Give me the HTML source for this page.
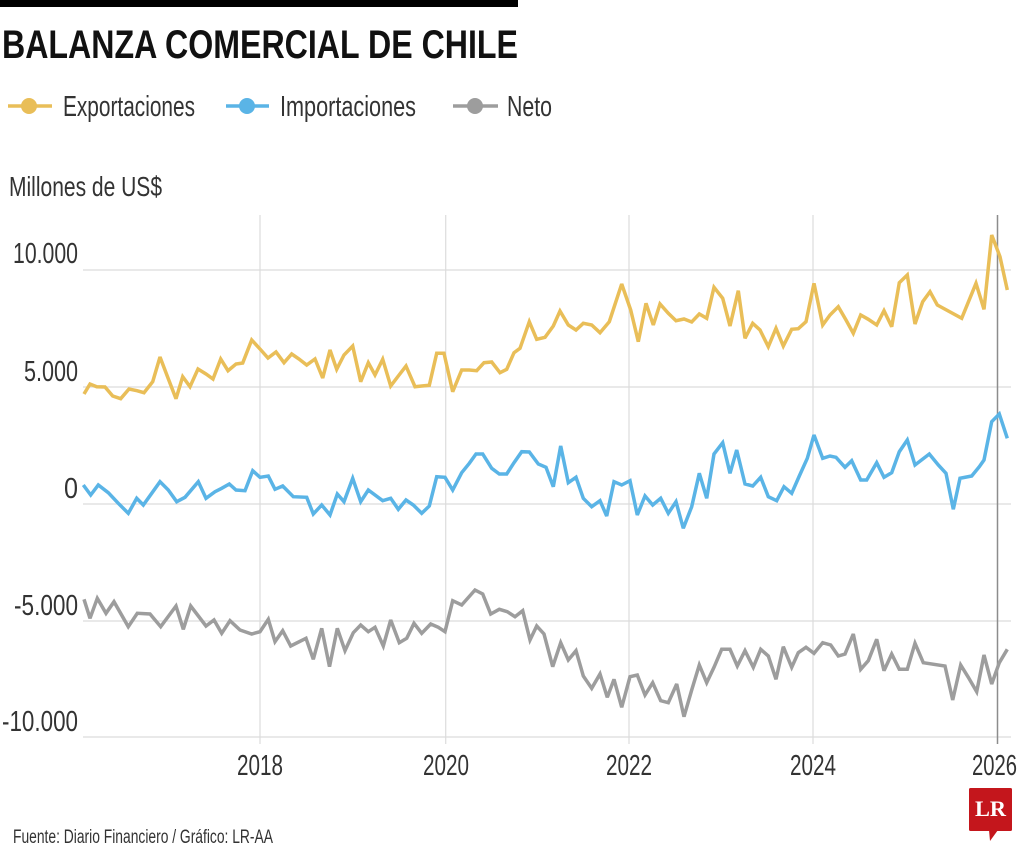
<!DOCTYPE html>
<html>
<head>
<meta charset="utf-8">
<style>
  html,body{margin:0;padding:0;background:#fff;}
  body{width:1024px;height:853px;overflow:hidden;}
  svg{display:block;}
  text{font-family:"Liberation Sans", sans-serif;}
</style>
</head>
<body>
<svg width="1024" height="853" viewBox="0 0 1024 853" xmlns="http://www.w3.org/2000/svg">
  <rect x="0" y="0" width="1024" height="853" fill="#ffffff"/>
  <!-- top bar -->
  <rect x="0" y="0" width="518" height="7" fill="#000"/>
  <!-- title -->
  <text x="2" y="58" font-size="40" font-weight="700" fill="#111" textLength="516" lengthAdjust="spacingAndGlyphs">BALANZA COMERCIAL DE CHILE</text>

  <!-- legend -->
  <line x1="8" y1="106" x2="52" y2="106" stroke="#E9BE58" stroke-width="3.5"/>
  <circle cx="29" cy="106" r="8" fill="#E9BE58"/>
  <text x="63" y="116" font-size="29" fill="#333" textLength="132" lengthAdjust="spacingAndGlyphs">Exportaciones</text>

  <line x1="226" y1="106" x2="269" y2="106" stroke="#5AB4E6" stroke-width="3.5"/>
  <circle cx="247" cy="106" r="8" fill="#5AB4E6"/>
  <text x="280" y="116" font-size="29" fill="#333" textLength="136" lengthAdjust="spacingAndGlyphs">Importaciones</text>

  <line x1="453" y1="106" x2="498" y2="106" stroke="#9D9D9D" stroke-width="3.5"/>
  <circle cx="475" cy="106" r="8" fill="#9D9D9D"/>
  <text x="507" y="116" font-size="29" fill="#333" textLength="45" lengthAdjust="spacingAndGlyphs">Neto</text>

  <!-- units -->
  <text x="9" y="196" font-size="28" fill="#333" textLength="153" lengthAdjust="spacingAndGlyphs">Millones de US$</text>

  <!-- horizontal gridlines -->
  <g stroke="#dcdcdc" stroke-width="1.2">
    <line x1="83" y1="270" x2="1011" y2="270"/>
    <line x1="83" y1="387" x2="1011" y2="387"/>
    <line x1="83" y1="504" x2="1011" y2="504"/>
    <line x1="83" y1="621" x2="1011" y2="621"/>
    <line x1="83" y1="737" x2="1011" y2="737"/>
  </g>
  <!-- vertical gridlines -->
  <g stroke="#dcdcdc" stroke-width="1.2">
    <line x1="260" y1="215" x2="260" y2="744"/>
    <line x1="445.7" y1="215" x2="445.7" y2="744"/>
    <line x1="629" y1="215" x2="629" y2="744"/>
    <line x1="813" y1="215" x2="813" y2="744"/>
  </g>
  <line x1="997.5" y1="215" x2="997.5" y2="744" stroke="#8c8c8c" stroke-width="1.5"/>

  <!-- y labels -->
  <g font-size="29" fill="#333" text-anchor="end">
    <text x="78" y="263" textLength="65" lengthAdjust="spacingAndGlyphs">10.000</text>
    <text x="78" y="381" textLength="54" lengthAdjust="spacingAndGlyphs">5.000</text>
    <text x="78" y="498" textLength="14" lengthAdjust="spacingAndGlyphs">0</text>
    <text x="78" y="615" textLength="64" lengthAdjust="spacingAndGlyphs">-5.000</text>
    <text x="78" y="731" textLength="76" lengthAdjust="spacingAndGlyphs">-10.000</text>
  </g>

  <!-- x labels -->
  <g font-size="29" fill="#333">
    <text x="237" y="775" textLength="46" lengthAdjust="spacingAndGlyphs">2018</text>
    <text x="423" y="775" textLength="46" lengthAdjust="spacingAndGlyphs">2020</text>
    <text x="606" y="775" textLength="46" lengthAdjust="spacingAndGlyphs">2022</text>
    <text x="790" y="775" textLength="46" lengthAdjust="spacingAndGlyphs">2024</text>
    <text x="972" y="775" textLength="45" lengthAdjust="spacingAndGlyphs">2026</text>
  </g>

  <!-- series -->
  <g fill="none" stroke-width="3.5" stroke-linejoin="miter" stroke-miterlimit="3" stroke-linecap="butt">
    <polyline stroke="#E9BE58" points="84,394 90,384 96.7,386.7 105,387 112.7,396 120.7,398.7 129,389 137,390.7 144,392.7 152.7,381.7 160,357 168,378 176,398.7 182.7,376.7 190,386.7 198,369 206,374 213,379 220.7,359 228,370.7 236,364 242.7,363 251.7,340 260,349 268,358 276,352 284,362.7 291.7,354 299,359 306.7,365 315,359 322.7,378 330,350 336.7,369.3 344,355 352.7,346 360.7,381.7 368.3,362.7 375,375 382.7,359.3 390.7,386 398.3,376 406,366 415,386.7 421.7,386 429.3,385.3 436.7,353.3 444,353.3 452.7,391.7 461.7,370 469.3,370 476.7,370.7 484,362.7 491.7,362 500,372.7 506.7,369.3 514,352.7 520,348.3 529.3,321.7 536.7,339.3 545,337.3 553.3,326 560,311 568.3,325 576,330 583.3,323.3 591.7,325 600,332.7 609.3,321.7 621.7,284 630.7,310 638.3,341.7 646,303.3 653.3,325 660,304 668.3,313.3 676,320.7 684,319 691.7,322 699.3,314 706.7,318.3 714,287.3 722.7,298.3 730,326 738.3,290.7 745,338.3 752.7,323.3 760,330 768.3,346.7 776,328.3 783.3,346 791.7,329.3 798.3,328.7 806,321.7 814,283.3 822.7,325 830,315 838.3,306.7 846,320 853.3,333.3 860.7,315 868.3,319.3 876.7,325 884,310.7 891.7,326.7 899.3,282.7 907.3,275 915,324 922.7,301.7 930,291.7 937.3,305 961.7,318.3 976,283.3 984,309.3 991.7,235 1000,256.7 1007.3,290"/>
    <polyline stroke="#5AB4E6" points="83.3,485 90.7,495 98.3,485 108.3,492.7 118.3,503.3 128.3,513.3 136.7,498.3 143.3,505 151.7,493.3 160,481.7 168.3,490 176.7,501.7 185,497.3 198.3,481.7 206,498.3 215,491.7 221.7,488.3 229.3,484 236,490 245,490.7 252.7,470.7 260,477.3 268.3,476 275,489.3 282.7,486 293.3,496.7 306.7,497.3 313.3,514 321.7,505 330,515 337.3,494 344,501.7 352.7,478.3 360.7,501.7 368.3,490 382.7,500.7 390.7,498.3 398.3,509.3 406,500 413.3,505 421.7,513.3 429.3,506 436.7,476.7 445,477.3 452.7,490 461.7,472.7 469.3,463.3 476,454 482.7,454 491.7,468.3 499.3,474 506.7,474 514,462.7 521.7,451.7 529.3,452 538.3,464 546,467.3 553.3,486.7 560.7,446 568.3,482.7 576,477.3 583.3,498.3 591.7,506.7 600,500.7 606.7,516 614,481.7 621.7,485 630,480.7 637.3,515 645,496 652.7,505 660.7,498.3 668.3,513.3 676,501.7 683.3,528.3 691.7,506.7 699.3,473.3 706.7,498.3 714,454 722.7,442.7 730,473.3 736.7,450 745,484 752.7,486 760.7,477.3 768.3,496.7 776.7,500.7 784,486.7 791.7,493.3 799.3,476 807.3,458.3 814,435 822.7,458.3 830,456 836,457.3 845,467.3 851.7,460.7 860.7,480 866.7,480 876.7,462.7 884,477.3 891.7,472.7 899.3,451.7 907.3,440 915,465 929.3,454 938.3,465 946,473.3 953.3,509.3 960,478.3 971.7,476 979.3,466.7 984,460 991.7,421.7 999.3,414 1007.3,438.3"/>
    <polyline stroke="#9D9D9D" points="84,599.3 90,618.3 97.3,598.3 106,613.3 114,601.7 128.3,626.7 137.3,613.3 150,614 160.7,626.7 176,606 183.3,629.3 190.7,606 206,626 214,620 221.7,633.3 230,620.7 240,630 251.7,634 260,631.7 268.3,619.3 275,641.7 282.7,630.7 290.7,646 306,638.3 313.3,659.3 321.7,628.3 329.5,666.7 337.3,628.3 345,650.7 353.3,632.7 360.7,625 368.3,631.7 375,627.3 383.3,646 390.7,620 399.3,642.7 406.7,638.3 414,623.3 421.7,633.3 430.7,624 438.3,627.3 445,631.7 452.7,600.7 461.7,605 475,590 482.7,594 490.7,614 499.3,609.3 507.3,611.7 515,616.7 522.7,610.7 530,640 536.7,626 544,634 552.7,666.7 560.7,642.7 568.3,660 576,650.7 583.3,676 591.7,688.3 600,674 607.3,697.3 614,679.3 621.7,707.3 630,676.7 637.3,675 645,695 652.7,682.7 660.7,700.7 668.3,702.7 676.7,684 684,716.7 691.7,690 699.3,665 706.7,682.7 714,667.3 721.7,649.3 730,649.3 737.3,666 745,650.7 753.3,667.3 760.7,649.3 768.3,656 776,679.3 783.3,646.7 791.7,667.3 798.3,652.7 806,647.3 814,653.3 822.7,642.7 830.7,645 838.3,656 845,654 853.3,634 860.7,669.3 868.3,660.7 876.7,639.3 884,670.7 891.7,654 899.3,669.3 907.3,669.3 915,643.3 923.3,662.7 945,666 952.7,700 960.7,665 968.3,677.3 976.7,691.7 984,655 991.7,684 999.3,662.7 1007.3,649.3"/>
  </g>

  <!-- source -->
  <text x="13" y="843" font-size="19" fill="#333" textLength="260" lengthAdjust="spacingAndGlyphs">Fuente: Diario Financiero / Gráfico: LR-AA</text>

  <!-- LR logo -->
  <rect x="969" y="788" width="43" height="43" rx="1.5" fill="#C4161C"/>
  <polygon points="989,830 998,830 990,841" fill="#C4161C"/>
  <text x="975" y="816" font-family="'Liberation Serif', serif" font-weight="700" font-size="22" fill="#fff" textLength="31" lengthAdjust="spacingAndGlyphs" style="font-family:'Liberation Serif', serif;">LR</text>
</svg>
</body>
</html>
